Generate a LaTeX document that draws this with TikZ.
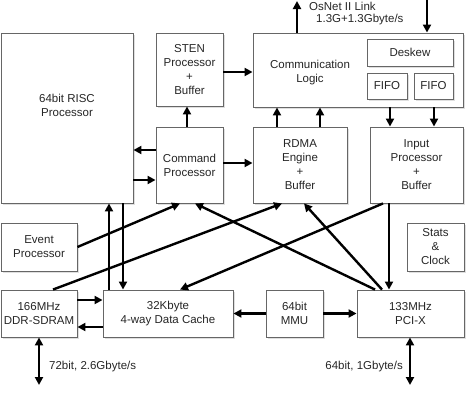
\documentclass[tikz,border=0pt]{standalone}
\usepackage{fontspec}
\setmainfont{Liberation Sans}
\usetikzlibrary{arrows.meta, shadows}

\begin{document}
\begin{tikzpicture}[x=1pt, y=-1pt,
    blk/.style={draw=black!60, line width=0.9pt, fill=white, align=center, inner sep=0pt,
      font=\fontsize{11.5}{14}\selectfont, text=black!85,
      drop shadow={shadow xshift=1.5pt, shadow yshift=-1.5pt, opacity=0.25}},
    lnk/.style={line width=2.4pt, >={Triangle[length=8pt,width=8pt]}},
    lbl/.style={font=\fontsize{11.5}{14}\selectfont, text=black!85, inner sep=0pt}]

    \useasboundingbox (0,0) rectangle (469,415);

    \node[blk, minimum width=132pt, minimum height=170pt] (risc) at (67,118) {64bit RISC\\Processor\\[12pt]};
    \node[blk, minimum width=67pt, minimum height=73pt] (sten) at (189.5,69.5) {STEN\\Processor\\+\\Buffer};
    \node[blk, minimum width=67pt, minimum height=76pt] (cmd) at (189.5,165) {Command\\Processor};
    \node[blk, minimum width=210pt, minimum height=74pt] (comm) at (358,70) {};
    \node[lbl, align=center] (commtxt) at (310,73) {Communication\\Logic};
    \node[blk, minimum width=86pt, minimum height=27pt] (deskew) at (410,52.5) {Deskew};
    \node[blk, minimum width=40pt, minimum height=26pt] (fifoa) at (387,86) {FIFO};
    \node[blk, minimum width=39pt, minimum height=26pt] (fifob) at (433.5,86) {FIFO};
    \node[blk, minimum width=94pt, minimum height=76pt] (rdma) at (300,165) {RDMA\\Engine\\+\\Buffer};
    \node[blk, minimum width=93pt, minimum height=76pt] (input) at (416.5,165) {Input\\Processor\\+\\Buffer};
    \node[blk, minimum width=76pt, minimum height=48pt] (event) at (39,247) {Event\\Processor};
    \node[blk, minimum width=57pt, minimum height=48pt] (stats) at (435.5,247) {Stats\\\&\\Clock};
    \node[blk, minimum width=76pt, minimum height=47pt] (ddr) at (39,313.5) {166MHz\\DDR-SDRAM};
    \node[blk, minimum width=130pt, minimum height=47pt] (cache) at (168,313.5) {32Kbyte\\4-way Data Cache};
    \node[blk, minimum width=57pt, minimum height=47pt] (mmu) at (294.5,313.5) {64bit\\MMU};
    \node[blk, minimum width=107pt, minimum height=47pt] (pcix) at (410.5,313.5) {133MHz\\PCI-X};

    \coordinate (linkout) at (297,1);
    \coordinate (linkin) at (427,0);
    \coordinate (ddrbus) at (39,385);
    \coordinate (pcibus) at (410,385);

    \node[lbl, anchor=west] (linklbl) at (309,6) {OsNet II Link};
    \node[lbl, anchor=west] (ratelbl) at (316,20) {1.3G+1.3Gbyte/s};
    \node[lbl, anchor=west] (ddrlbl) at (49,367) {72bit, 2.6Gbyte/s};
    \node[lbl, anchor=east] (pcilbl) at (403,367) {64bit, 1Gbyte/s};

    \draw[lnk, ->] (cmd.west |- 0,150) -- (risc.east |- 0,150);
    \draw[lnk, ->] (risc.east |- 0,180) -- (cmd.west |- 0,180);
    \draw[lnk, ->] (cmd.north -| 187,0) -- (sten.south -| 187,0);
    \draw[lnk, ->] (sten.east |- 0,72) -- (comm.west |- 0,72);
    \draw[lnk, ->] (cmd.east |- 0,163) -- (rdma.west |- 0,163);
    \draw[lnk, ->] (rdma.north -| 277,0) -- (comm.south -| 277,0);
    \draw[lnk, ->] (rdma.north -| 320,0) -- (comm.south -| 320,0);
    \draw[lnk, ->] (comm.south -| 390,0) -- (input.north -| 390,0);
    \draw[lnk, ->] (comm.south -| 434,0) -- (input.north -| 434,0);
    \draw[lnk, ->] (comm.north -| linkout) -- (linkout);
    \draw[lnk, ->] (linkin) -- (comm.north -| linkin);

    \draw[lnk, ->] (cache.north -| 109,0) -- (risc.south -| 109,0);
    \draw[lnk, ->] (risc.south -| 123,0) -- (cache.north -| 123,0);
    \draw[lnk, ->] (event.east) -- (cmd.south -| 180,0);
    \draw[lnk, ->] (pcix.north -| 375,0) -- (cmd.south -| 195,0);
    \draw[lnk, ->] (ddr.north -| 53,0) -- (rdma.south -| 282,0);
    \draw[lnk, ->] (pcix.north -| 382,0) -- (rdma.south -| 304,0);
    \draw[lnk, ->] (input.south -| 383,0) -- (cache.north -| 180,0);
    \draw[lnk, ->] (input.south -| 389,0) -- (pcix.north -| 389,0);

    \draw[lnk, ->] (ddr.east |- 0,300) -- (cache.west |- 0,300);
    \draw[lnk, ->] (cache.west |- 0,327) -- (ddr.east |- 0,327);
    \draw[lnk, ->] (mmu.west) -- (cache.east);
    \draw[lnk, ->] (mmu.east) -- (pcix.west);
    \draw[lnk, <->] (ddr.south -| ddrbus) -- (ddrbus);
    \draw[lnk, <->] (pcix.south -| pcibus) -- (pcibus);
\end{tikzpicture}
\end{document}
